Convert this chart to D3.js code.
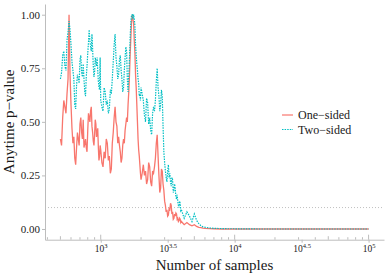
<!DOCTYPE html>
<html>
<head>
<meta charset="utf-8">
<script src="https://cdn.jsdelivr.net/npm/d3@7"></script>
<style>
  body { margin: 0; background: #ffffff; }
  text { font-family: "Liberation Serif", "DejaVu Serif", serif; fill: #1a1a1a; }
</style>
</head>
<body>
<div id="chart"></div>
<script>
/* CONSTANTS AND GLOBALS */
const width = 389,
  height = 278,
  margin = { top: 4, right: 5, bottom: 38.3, left: 45 };

/*************/
/*   DATA    */
/*************/

const samples = [
  500, 510, 520, 530, 540, 550, 560, 570, 580, 590, 600, 610, 620, 630, 640, 650, 660, 670, 680, 690,
  700, 710, 720, 730, 740, 750, 760, 770, 780, 790, 800, 810, 820, 830, 840, 850, 860, 870, 880, 890,
  900, 910, 920, 930, 940, 950, 960, 970, 980, 990, 1000,
  1020, 1040, 1060, 1080, 1100, 1120, 1140, 1160, 1180, 1200, 1220, 1240, 1260, 1280, 1300, 1320, 1340, 1360, 1380, 1400,
  1420, 1440, 1460, 1480, 1500, 1520, 1540, 1560, 1580, 1600, 1620, 1640, 1660, 1680, 1700, 1720, 1740, 1760, 1780, 1800,
  1820, 1840, 1860, 1880, 1900, 1920, 1940, 1960, 1980, 2000,
  2040, 2080, 2120, 2160, 2200, 2240, 2280, 2320, 2360, 2400, 2440, 2480, 2520, 2560, 2600, 2640, 2680, 2720, 2760, 2800,
  2840, 2880, 2920, 2960, 3000, 3040, 3080, 3120, 3160, 3200, 3240, 3280, 3320, 3360, 3400, 3440, 3480, 3520, 3560, 3600,
  3640, 3680, 3720, 3760, 3800, 3840, 3880, 3920, 3960, 4000,
  4200, 4400, 4600, 4800, 5000, 5200, 5400, 5600, 5800, 6000,
  6500, 7000, 8000, 9000, 10000, 15000, 20000, 30000, 50000, 70000, 100000
];

const oneSided = [
  0.42, 0.39, 0.52, 0.60, 0.57, 0.54, 0.63, 0.70, 1.00, 0.72, 0.58, 0.47, 0.40, 0.43, 0.33, 0.30, 0.38, 0.45, 0.42, 0.39,
  0.49, 0.52, 0.45, 0.42, 0.51, 0.38, 0.40, 0.42, 0.38, 0.36, 0.46, 0.54, 0.52, 0.50, 0.55, 0.57, 0.48, 0.45, 0.41, 0.39,
  0.44, 0.51, 0.49, 0.43, 0.45, 0.47, 0.38, 0.32, 0.34, 0.39, 0.37,
  0.31, 0.29, 0.36, 0.33, 0.42, 0.40, 0.32, 0.34, 0.26, 0.28, 0.40, 0.45, 0.52, 0.57, 0.50, 0.48, 0.40, 0.43, 0.39, 0.36,
  0.31, 0.33, 0.39, 0.42, 0.40, 0.46, 0.49, 0.52, 0.50, 0.58, 0.64, 0.72, 0.82, 0.90, 0.97, 1.00, 0.98, 0.96, 0.88, 0.82,
  0.72, 0.66, 0.58, 0.50, 0.42, 0.37, 0.34, 0.30, 0.26, 0.23,
  0.26, 0.30, 0.25, 0.27, 0.21, 0.23, 0.31, 0.29, 0.22, 0.20, 0.27, 0.26, 0.29, 0.33, 0.40, 0.44, 0.34, 0.25, 0.17, 0.19,
  0.28, 0.27, 0.21, 0.18, 0.13, 0.11, 0.08, 0.09, 0.06, 0.065, 0.095, 0.09, 0.12, 0.11, 0.07, 0.08, 0.045, 0.05, 0.07, 0.06,
  0.075, 0.07, 0.045, 0.05, 0.035, 0.04, 0.05, 0.045, 0.03, 0.035,
  0.02, 0.03, 0.02, 0.015, 0.02, 0.012, 0.008, 0.006, 0.004, 0.003,
  0.002, 0.001, 0, 0, 0, 0, 0, 0, 0, 0, 0
];

const twoSided = [
  0.70, 0.73, 0.81, 0.83, 0.76, 0.74, 0.88, 0.92, 0.97, 0.93, 0.86, 0.78, 0.74, 0.70, 0.58, 0.56, 0.67, 0.72, 0.70, 0.68,
  0.79, 0.81, 0.73, 0.71, 0.77, 0.70, 0.64, 0.62, 0.71, 0.76, 0.82, 0.87, 0.93, 0.88, 0.85, 0.83, 0.91, 0.84, 0.76, 0.71,
  0.73, 0.80, 0.78, 0.76, 0.80, 0.74, 0.69, 0.66, 0.65, 0.80, 0.60,
  0.57, 0.55, 0.66, 0.64, 0.58, 0.60, 0.54, 0.56, 0.65, 0.63, 0.70, 0.78, 0.86, 0.91, 0.80, 0.76, 0.70, 0.72, 0.79, 0.81,
  0.74, 0.70, 0.64, 0.66, 0.74, 0.80, 0.85, 0.83, 0.70, 0.64, 0.72, 0.80, 0.90, 0.97, 1.00, 1.00, 0.98, 1.00, 0.98, 0.95,
  0.86, 0.81, 0.77, 0.74, 0.70, 0.68, 0.62, 0.63, 0.60, 0.66,
  0.63, 0.60, 0.53, 0.50, 0.61, 0.59, 0.49, 0.52, 0.46, 0.44, 0.54, 0.57, 0.55, 0.60, 0.69, 0.75, 0.66, 0.62, 0.55, 0.58,
  0.65, 0.62, 0.48, 0.36, 0.31, 0.27, 0.24, 0.22, 0.27, 0.30, 0.24, 0.26, 0.22, 0.20, 0.24, 0.23, 0.17, 0.18, 0.21, 0.19,
  0.15, 0.14, 0.16, 0.13, 0.11, 0.10, 0.13, 0.12, 0.085, 0.09,
  0.05, 0.08, 0.06, 0.035, 0.07, 0.04, 0.025, 0.015, 0.01, 0.008,
  0.005, 0.003, 0.002, 0.001, 0.001, 0, 0, 0, 0, 0, 0
];

const seriesNames = ["One\u2212sided", "Two\u2212sided"];
const seriesColors = ["#F8766D", "#00BFC4"];
const yTicks = [0, 0.25, 0.5, 0.75, 1];
const xTickExponents = ["3", "3.5", "4", "4.5", "5"];
const threshold = 0.1;

/**********/
/* SCALES */
/**********/

const logExtent = d3.extent(samples, d => Math.log10(d));
const xPad = (logExtent[1] - logExtent[0]) * 0.05;
const xScale = d3.scaleLog()
  .domain([10 ** (logExtent[0] - xPad), 10 ** (logExtent[1] + xPad)])
  .range([margin.left, width - margin.right]);

const yScale = d3.scaleLinear()
  .domain([-0.05, 1.05])
  .range([height - margin.bottom, margin.top]);

/****************/
/* SVG ELEMENTS */
/****************/

const svg = d3.select("#chart")
  .append("svg")
  .attr("width", width)
  .attr("height", height)
  .style("background-color", "#ffffff");

// threshold line
svg.append("line")
  .attr("x1", margin.left)
  .attr("x2", width - margin.right)
  .attr("y1", yScale(threshold))
  .attr("y2", yScale(threshold))
  .attr("stroke", "#b0b0b0")
  .attr("stroke-width", 0.8)
  .attr("stroke-dasharray", "1,2");

/********/
/* AXES */
/********/

const yAxis = svg.append("g")
  .attr("transform", `translate(${margin.left},0)`)
  .call(d3.axisLeft(yScale).tickValues(yTicks).tickFormat(d3.format(".2f")).tickSize(3).tickSizeOuter(0).tickPadding(2));
yAxis.select(".domain").attr("stroke", "#bdbdbd");
yAxis.selectAll(".tick line").attr("stroke", "#bdbdbd");
yAxis.selectAll(".tick text").style("font-size", "11px").attr("fill", "#1a1a1a");

const xAxis = svg.append("g")
  .attr("transform", `translate(0,${height - margin.bottom})`)
  .call(d3.axisBottom(xScale).tickValues(xTickExponents.map(e => 10 ** +e)).tickFormat("").tickSize(3).tickSizeOuter(0));
xAxis.select(".domain").attr("stroke", "#bdbdbd");
xAxis.selectAll(".tick line").attr("stroke", "#bdbdbd");
xAxis.selectAll(".tick text")
  .attr("dy", null)
  .attr("y", 12.5)
  .style("font-size", "9.5px")
  .attr("fill", "#1a1a1a")
  .each(function(d, i) {
    const t = d3.select(this);
    t.text("10");
    t.append("tspan").attr("dy", -4).style("font-size", "6.5px").text(xTickExponents[i]);
  });

// log ticks inside the panel
const logTicks = [];
for (let k = 2; k <= 5; k++) {
  for (let m = 1; m <= 9; m++) {
    const v = m * 10 ** k;
    if (v >= xScale.domain()[0] && v <= xScale.domain()[1]) logTicks.push({ v, m });
  }
}
svg.append("g").selectAll("line")
  .data(logTicks)
  .join("line")
  .attr("x1", d => xScale(d.v))
  .attr("x2", d => xScale(d.v))
  .attr("y1", height - margin.bottom)
  .attr("y2", d => height - margin.bottom - (d.m === 1 ? 5 : d.m === 5 ? 3.5 : 2.5))
  .attr("stroke", "#bdbdbd")
  .attr("stroke-width", 1);

// axis titles
svg.append("text")
  .attr("x", (margin.left + width - margin.right) / 2)
  .attr("y", 270)
  .style("text-anchor", "middle")
  .style("font-size", "15px")
  .text("Number of samples");

svg.append("text")
  .attr("transform", "rotate(-90)")
  .attr("x", -(margin.top + height - margin.bottom) / 2)
  .attr("y", 14)
  .style("text-anchor", "middle")
  .style("font-size", "15px")
  .text("Anytime p\u2212value");

/*************/
/* DRAW LINE */
/*************/

const lineGen = d3.line()
  .x(d => xScale(d[0]))
  .y(d => yScale(d[1]));

const seriesData = [
  d3.zip(samples, oneSided),
  d3.zip(samples, twoSided)
];

svg.selectAll(".line")
  .data(seriesData)
  .join("path")
  .attr("class", "line")
  .attr("fill", "none")
  .attr("stroke", (d, i) => seriesColors[i])
  .attr("stroke-width", (d, i) => i === 1 ? 1.2 : 1.3)
  .attr("stroke-dasharray", (d, i) => i === 1 ? "1.5,1.1" : null)
  .attr("d", lineGen);

/**********/
/* LEGEND */
/**********/

const legend = svg.append("g")
  .attr("transform", "translate(282,115)");

legend.selectAll("line")
  .data(seriesNames)
  .join("line")
  .attr("x1", 0)
  .attr("x2", 11)
  .attr("y1", (d, i) => i * 14.5)
  .attr("y2", (d, i) => i * 14.5)
  .attr("stroke", (d, i) => seriesColors[i])
  .attr("stroke-width", 1.2)
  .attr("stroke-dasharray", (d, i) => i === 1 ? "1.5,1.1" : null);

legend.selectAll("text")
  .data(seriesNames)
  .join("text")
  .attr("x", 16)
  .attr("y", (d, i) => i * 14.5 + 4)
  .style("font-size", "12px")
  .text(d => d);
</script>
</body>
</html>
